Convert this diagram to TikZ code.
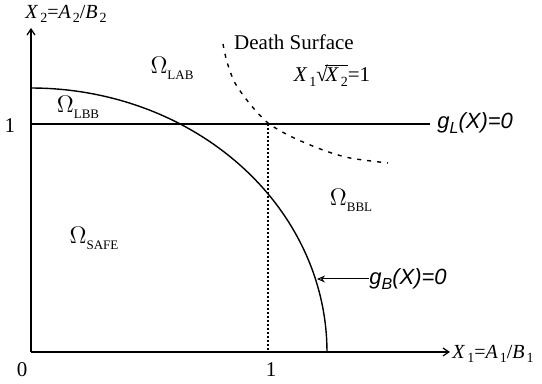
\documentclass[tikz,border=0pt]{standalone}
\usepackage{fontspec}
\setmainfont{Liberation Serif}
\newfontfamily\sansf{Liberation Sans}
\usetikzlibrary{arrows.meta}
\newcommand\sbs[1]{\raisebox{-0.5ex}{\fontsize{7}{8}\selectfont #1}}
\newcommand\osb[1]{\raisebox{-0.55ex}{\fontsize{6.5}{7}\selectfont #1}}
\newcommand\Om[1]{\fontsize{11.5}{12}\selectfont$\Omega$\osb{#1}}
\begin{document}
\begin{tikzpicture}[x=0.5pt,y=-0.5pt,
  lbl/.style={inner sep=0pt, font=\fontsize{10.5}{12}\selectfont},
  albl/.style={inner sep=0pt, font=\fontsize{10}{12}\selectfont},
  slbl/.style={inner sep=0pt, font=\sansf\itshape\fontsize{11}{12}\selectfont},
  axisline/.style={line width=0.6pt, -{Straight Barb[length=3pt,width=4pt]}},
  thinline/.style={line width=0.6pt},
  boundary/.style={line width=0.7pt},
  deathline/.style={line width=0.7pt, dash pattern=on 2pt off 3pt},
  guide/.style={line width=0.6pt, dash pattern=on 1.2pt off 0.8pt},
  pointer/.style={line width=0.5pt, -{Stealth[open,length=4pt,width=3.5pt]}}]
\useasboundingbox (0,0) rectangle (542,384);
% axes
\coordinate (O) at (31,352);
\coordinate (ytop) at (31,28);
\coordinate (xend) at (450,352);
\draw[axisline] (O) -- (ytop);
\draw[axisline] (O) -- (xend);
\node[albl, anchor=west] (xlab) at (452,354) {\textit{X}\kern1pt\sbs{1}=\textit{A}\kern1pt\sbs{1}/\textit{B}\kern1pt\sbs{1}};
\node[albl] (ylab) at (66,14) {\textit{X}\kern1pt\sbs{2}=\textit{A}\kern1pt\sbs{2}/\textit{B}\kern1pt\sbs{2}};
% ticks
\node[lbl] (x0) at (22,370) {0};
\node[lbl] (x1) at (271,370) {1};
\node[lbl] (y1) at (10,126) {1};
% limit line g_L
\coordinate (gLa) at (31,124);
\coordinate (gLb) at (430,124);
\draw[thinline] (gLa) -- (gLb);
\node[slbl, anchor=west] (gL) at (437,123) {g\raisebox{-0.4ex}{\fontsize{8}{9}\selectfont L}(X)=0};
% dashed guide at X1=1
\coordinate (ga) at (268,124);
\coordinate (gb) at (268,352);
\draw[guide] (ga) -- (gb);
% boundary g_B (quarter ellipse)
\draw[boundary] plot[smooth, domain=0:90, samples=60] ({31+296*cos(\x)}, {352-264*sin(\x)});
\coordinate (gBtip) at (317,279);
\node[slbl, anchor=west] (gB) at (369,279) {g\raisebox{-0.4ex}{\fontsize{8}{9}\selectfont B}(X)=0};
\draw[pointer] (gB.west) -- (gBtip);
% death surface
\draw[deathline] plot[smooth] coordinates {(223,44) (227,62) (235,83) (250,104) (268,123) (292,137) (323,150) (350,158) (388,163)};
\node[lbl] (ds) at (294,42) {Death Surface};
\node[lbl] (dseq) at (332,75) {\textit{X}\kern1pt\sbs{1}√\kern-1.2pt$\overline{\mbox{\textit{X}\kern1pt\sbs{2}}}$=1};
% regions
\node[lbl] (lab) at (172,68) {\Om{LAB}};
\node[lbl] (lbb) at (78,107) {\Om{LBB}};
\node[lbl] (safe) at (94,238) {\Om{SAFE}};
\node[lbl] (bbl) at (351,200) {\Om{BBL}};
\end{tikzpicture}
\end{document}
